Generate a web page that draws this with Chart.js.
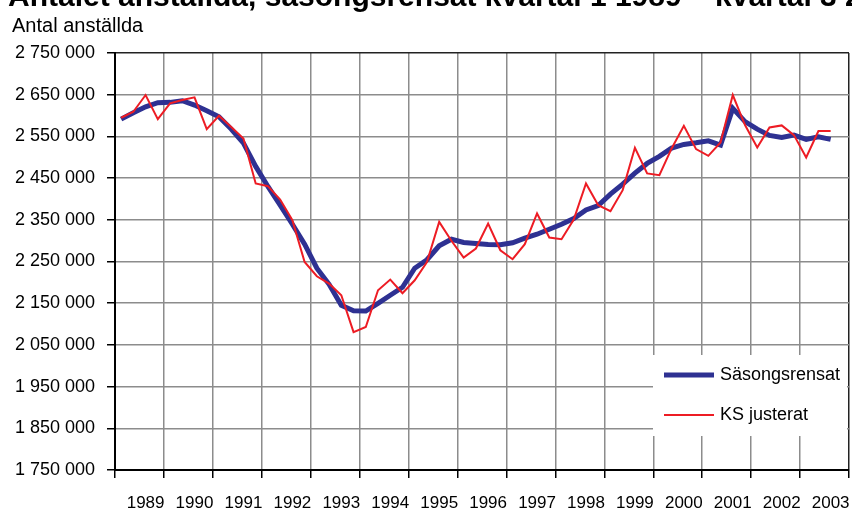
<!DOCTYPE html>
<html>
<head>
<meta charset="utf-8">
<script src="https://cdn.jsdelivr.net/npm/chart.js@4"></script>
<style>
  body { margin: 0; background: #fff; }
</style>
</head>
<body>
<canvas id="ch1" width="852" height="515"></canvas>
<script>
// year labels, one per 4 quarters
const years = ['1989', '1990', '1991', '1992', '1993', '1994', '1995', '1996',
  '1997', '1998', '1999', '2000', '2001', '2002', '2003'];

// kvartal 1 1989 - kvartal 3 2003
const sasongsrensat = [
  2591500, 2606800, 2621000, 2630700, 2631600, 2635500, 2625100, 2611500,
  2597100, 2567500, 2533900, 2478000, 2430000, 2385000, 2339400, 2291400,
  2233800, 2195400, 2144900, 2131700, 2131300, 2149800, 2169000, 2188200,
  2233800, 2254200, 2287800, 2303400, 2295500, 2293300, 2290900, 2290000,
  2295000, 2305800, 2315400, 2327400, 2339400, 2353100, 2373800, 2384300,
  2411500, 2435500, 2461900, 2485200, 2502000, 2521900, 2530800, 2534600,
  2539400, 2529100, 2617200, 2585500, 2567500, 2552400, 2547600, 2553100,
  2542800, 2549000, 2542800
];

const ksJusterat = [
  2594700, 2609100, 2649200, 2591500, 2629200, 2637200, 2643600, 2567500,
  2599500, 2572300, 2544700, 2437100, 2430700, 2398700, 2349000, 2248900,
  2214600, 2197000, 2169000, 2080800, 2092900, 2181000, 2206700, 2173800,
  2205000, 2248900, 2345000, 2299800, 2259500, 2281100, 2341100, 2277000,
  2255400, 2291400, 2365100, 2307500, 2303400, 2350700, 2437100, 2385100,
  2370600, 2421100, 2522600, 2461200, 2457100, 2521200, 2575400, 2519500,
  2503400, 2535600, 2649200, 2577100, 2523600, 2571600, 2576400, 2553100,
  2499600, 2562700, 2562700
];

const yMin = 1750000, yMax = 2750000, yStep = 100000;

const blue = '#2e3192';
const red = '#ed1c24';
const gridGray = '#8c8c8c';

function fmt(v) {
  return String(v).replace(/\B(?=(\d{3})+(?!\d))/g, ' ');
}

// quarter i sits in the middle of its slot
function toPoints(arr) {
  return arr.map((v, i) => ({ x: i + 0.5, y: v }));
}

Chart.defaults.font.family = "'Liberation Sans', Arial, sans-serif";
Chart.defaults.color = '#000';

const textPlugin = {
  id: 'texts',
  afterDatasetsDraw(chart) {
    const c = chart.ctx;
    const a = chart.chartArea;
    c.save();
    // title, cut off at the top like the original
    c.fillStyle = '#000';
    c.textBaseline = 'alphabetic';
    c.font = "bold 30px 'Liberation Sans', Arial, sans-serif";
    c.fillText('Antalet anställda, säsongsrensat kvartal 1 1989 \u2013 kvartal 3 2003', 8, 6);
    c.font = "20px 'Liberation Sans', Arial, sans-serif";
    c.fillText('Antal anställda', 12, 32);

    // legend inside the plot
    const lx = a.right - 196, ly = a.top + 302;
    c.fillStyle = '#fff';
    c.fillRect(lx, ly, 194, 81);
    const items = [
      { label: 'Säsongsrensat', color: blue, w: 5, y: ly + 20 },
      { label: 'KS justerat', color: red, w: 2, y: ly + 60 }
    ];
    c.font = "18px 'Liberation Sans', Arial, sans-serif";
    c.textBaseline = 'middle';
    items.forEach(it => {
      c.strokeStyle = it.color;
      c.lineWidth = it.w;
      c.beginPath();
      c.moveTo(lx + 11, it.y);
      c.lineTo(lx + 61, it.y);
      c.stroke();
      c.fillStyle = '#000';
      c.fillText(it.label, lx + 67, it.y);
    });
    c.restore();
  }
};

var ctx = document.getElementById('ch1').getContext('2d');

var myChart = new Chart(ctx, {
  type: 'line',
  data: {
    datasets: [{
      label: 'KS justerat',
      data: toPoints(ksJusterat),
      borderColor: red,
      borderWidth: 2,
      pointRadius: 0,
      tension: 0,
      order: 0
    }, {
      label: 'Säsongsrensat',
      data: toPoints(sasongsrensat),
      borderColor: blue,
      borderWidth: 5,
      pointRadius: 0,
      tension: 0,
      order: 1
    }]
  },
  options: {
    responsive: false,
    animation: false,
    layout: { padding: { left: 13, right: 3, top: 53, bottom: 3 } },
    plugins: {
      legend: { display: false },
      tooltip: { enabled: false }
    },
    scales: {
      x: {
        type: 'linear',
        min: 0,
        max: years.length * 4,
        afterBuildTicks: scale => {
          const t = [];
          for (let k = 0; k <= years.length; k++) {
            t.push({ value: 4 * k });
            if (k < years.length) t.push({ value: 4 * k + 2.5 });
          }
          scale.ticks = t;
        },
        afterFit: scale => {
          scale.height = 42;
          scale.paddingLeft = 0;
          scale.paddingRight = 0;
        },
        ticks: {
          autoSkip: false,
          maxRotation: 0,
          padding: 15,
          font: { size: 17 },
          callback: v => (v % 4 === 2.5 ? years[(v - 2.5) / 4] : '')
        },
        grid: {
          color: c => {
            const v = c.tick ? c.tick.value : 0;
            if (v % 4 !== 0) return 'rgba(0,0,0,0)';
            return v === years.length * 4 ? '#222' : gridGray;
          },
          tickColor: c => (c.tick && c.tick.value % 4 === 0 ? '#000' : 'rgba(0,0,0,0)'),
          tickLength: 8,
          lineWidth: 1.5
        },
        border: { color: '#000', width: 2 }
      },
      y: {
        min: yMin,
        max: yMax,
        afterFit: scale => {
          scale.width = 102;
          scale.paddingTop = 0;
          scale.paddingBottom = 0;
        },
        ticks: {
          stepSize: yStep,
          padding: 12,
          font: { size: 18 },
          callback: v => fmt(v)
        },
        grid: {
          color: c => (c.tick && c.tick.value === yMax ? '#222' : gridGray),
          tickColor: '#000',
          tickLength: 8,
          lineWidth: 1.5
        },
        border: { color: '#000', width: 2 }
      }
    }
  },
  plugins: [textPlugin]
});
</script>
</body>
</html>
